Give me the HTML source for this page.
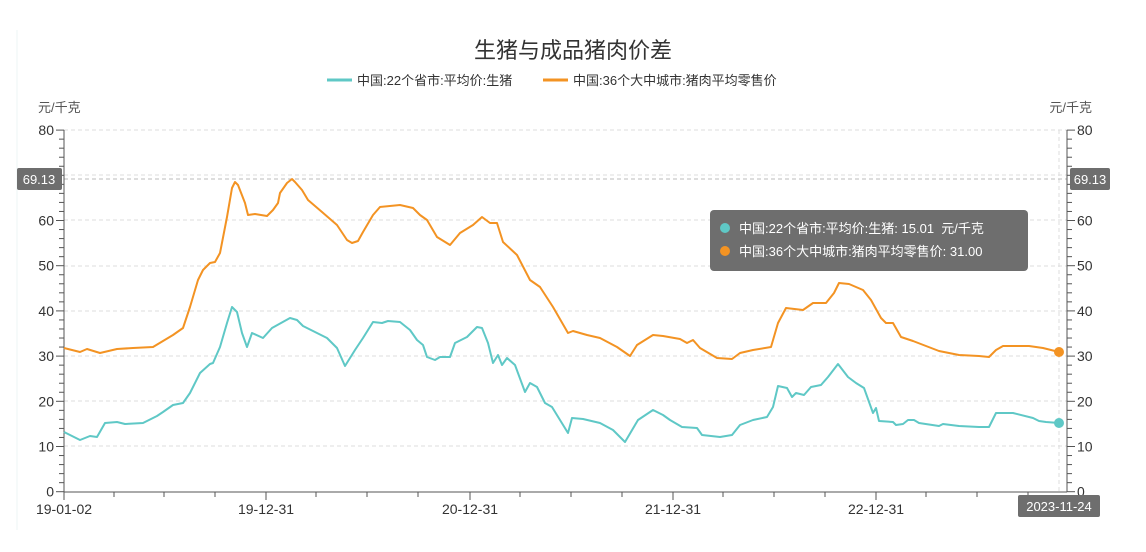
<!DOCTYPE html>
<html><head><meta charset="utf-8"><style>
html,body{margin:0;padding:0;background:#fff;}
svg{display:block;font-family:"Liberation Sans","Noto Sans CJK SC",sans-serif;}
</style></head><body>
<svg width="1146" height="552" viewBox="0 0 1146 552" xmlns="http://www.w3.org/2000/svg">
<line x1="17" y1="30" x2="17" y2="530" stroke="#eef4f4" stroke-width="1"/>
<text x="573" y="58" text-anchor="middle" font-size="22" fill="#333">生猪与成品猪肉价差</text>
<line x1="327" y1="80" x2="352" y2="80" stroke="#5fc8c6" stroke-width="3"/>
<text x="357" y="85" font-size="13" fill="#333">中国:22个省市:平均价:生猪</text>
<line x1="543" y1="80" x2="568" y2="80" stroke="#f39323" stroke-width="3"/>
<text x="573" y="85" font-size="13" fill="#333">中国:36个大中城市:猪肉平均零售价</text>
<text x="38" y="112" font-size="13" fill="#555">元/千克</text>
<text x="1092" y="112" font-size="13" fill="#555" text-anchor="end">元/千克</text>
<g stroke="#ddd" stroke-dasharray="4,3" stroke-width="1">
<line x1="64" y1="130" x2="1067" y2="130"/><line x1="64" y1="175" x2="1067" y2="175"/>
<line x1="64" y1="220" x2="1067" y2="220"/><line x1="64" y1="266" x2="1067" y2="266"/>
<line x1="64" y1="311" x2="1067" y2="311"/><line x1="64" y1="356" x2="1067" y2="356"/>
<line x1="64" y1="401" x2="1067" y2="401"/><line x1="64" y1="446" x2="1067" y2="446"/>
<line x1="1059" y1="130" x2="1059" y2="492"/>
</g>
<line x1="64" y1="179" x2="1067" y2="179" stroke="#bbb" stroke-dasharray="4,3"/>
<g stroke="#555" stroke-width="1">
<line x1="64" y1="130" x2="64" y2="492"/><line x1="1067" y1="130" x2="1067" y2="492"/>
<line x1="64" y1="492" x2="1067" y2="492"/>
</g>
<g id="ticks" stroke="#555" stroke-width="1"></g>
<g font-size="14" fill="#333" id="labels"></g>
<polyline fill="none" stroke="#f39323" stroke-width="2" stroke-linejoin="round" points="64,348 80,352 87,349 100,353 117,349 133,348 153,347 163,341 173,335 183,328 190,307 198,280 203,270 210,263 215,262 220,253 227,217 232,188 235,182 238,185 245,203 248,215 255,214 267,216 273,210 278,203 280,193 287,183 292,179 295,182 302,190 308,200 322,212 337,225 347,240 352,243 358,241 363,232 373,215 380,207 400,205 413,208 420,215 427,220 437,237 450,245 460,233 473,225 482,217 490,223 497,223 503,242 517,255 530,280 540,287 553,307 568,333 573,331 587,335 600,338 617,347 630,356 637,345 653,335 663,336 680,339 687,343 693,340 700,348 717,358 732,359 740,353 753,350 771,347 778,323 786,308 803,310 813,303 826,303 834,293 839,283 849,284 863,290 871,300 881,318 886,323 893,323 901,337 913,341 926,346 939,351 959,355 979,356 989,357 996,350 1003,346 1029,346 1043,348 1059,352"/>
<polyline fill="none" stroke="#5fc8c6" stroke-width="2" stroke-linejoin="round" points="64,432 80,440 90,436 97,437 105,423 117,422 125,424 143,423 157,416 163,412 173,405 183,403 190,393 200,373 210,364 213,363 220,347 227,323 232,307 237,312 242,333 247,347 252,333 263,338 272,328 290,318 297,320 303,326 313,331 327,338 337,348 345,366 355,350 363,338 373,322 382,323 388,321 400,322 410,330 417,340 423,345 427,357 435,360 440,357 450,357 455,343 467,337 477,327 482,328 488,343 493,363 498,355 502,365 507,358 515,365 525,392 530,383 537,387 545,403 552,407 560,420 568,433 572,418 583,419 600,423 613,430 625,442 638,420 653,410 663,415 670,420 682,427 697,428 702,435 720,437 732,435 740,425 753,420 767,417 773,407 778,386 787,388 792,397 796,393 804,395 811,387 821,385 828,377 838,364 848,377 856,383 864,388 873,413 876,408 879,421 893,422 896,425 903,424 908,420 914,420 919,423 939,426 943,424 959,426 979,427 989,427 996,413 1013,413 1033,418 1039,421 1046,422 1059,423"/>
<circle cx="1059" cy="352" r="5" fill="#f39323"/>
<circle cx="1059" cy="423" r="5" fill="#5fc8c6"/>
<rect x="17" y="168" width="45" height="22" rx="2" fill="#6e6e6e"/>
<text x="39" y="184" font-size="13" fill="#fff" text-anchor="middle">69.13</text>
<rect x="1070" y="168" width="40" height="22" rx="2" fill="#6e6e6e"/>
<text x="1090" y="184" font-size="13" fill="#fff" text-anchor="middle">69.13</text>
<rect x="1018" y="495" width="82" height="22" rx="2" fill="#6e6e6e"/>
<text x="1059" y="511" font-size="13" fill="#fff" text-anchor="middle">2023-11-24</text>
<rect x="710" y="210" width="318" height="61" rx="4" fill="#666" fill-opacity="0.95"/>
<circle cx="725" cy="228" r="5" fill="#5fc8c6"/>
<text x="739" y="233" font-size="13" fill="#fff" xml:space="preserve">中国:22个省市:平均价:生猪: 15.01  元/千克</text>
<circle cx="725" cy="251" r="5" fill="#f39323"/>
<text x="739" y="256" font-size="13" fill="#fff">中国:36个大中城市:猪肉平均零售价: 31.00</text>
</svg>
<script>
(function(){
var ns="http://www.w3.org/2000/svg",t=document.getElementById("ticks"),l=document.getElementById("labels");
function ln(a,b,c,d){var e=document.createElementNS(ns,"line");e.setAttribute("x1",a);e.setAttribute("y1",b);e.setAttribute("x2",c);e.setAttribute("y2",d);t.appendChild(e);}
function tx(x,y,s,anc){var e=document.createElementNS(ns,"text");e.setAttribute("x",x);e.setAttribute("y",y);e.setAttribute("text-anchor",anc);e.textContent=s;l.appendChild(e);}
for(var i=0;i<=40;i++){var y=491.7-i*2*4.52;var big=i%5==0;
ln(64-(big?8:5),y,64,y);ln(1067,y,1067+(big?8:5),y);
if(big){tx(54,y+5,String(i*2),"end");tx(1077,y+5,String(i*2),"start");}}
var xs=[64,114,164,215,266,316,367,418,470,520,571,622,673,723,774,825,876,926,977,1028];
xs.forEach(function(x){ln(x,492,x,497);});
var lb=[[64,"19-01-02"],[266,"19-12-31"],[470,"20-12-31"],[673,"21-12-31"],[876,"22-12-31"]];
lb.forEach(function(p){ln(p[0],492,p[0],500);tx(p[0],514,p[1],"middle");});
})();
</script>
</body></html>
